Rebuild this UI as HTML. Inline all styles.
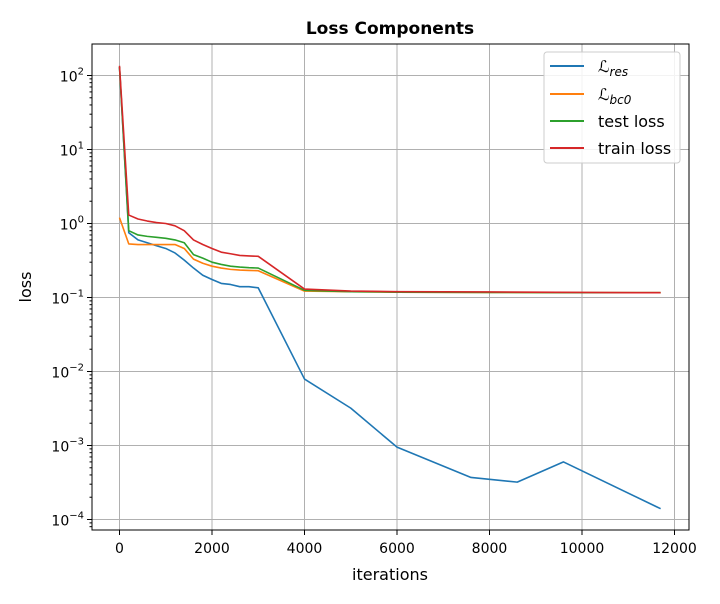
<!DOCTYPE html>
<html><head><meta charset="utf-8"><style>
body{margin:0;background:#fff;font-family:"DejaVu Sans","Liberation Sans",sans-serif}
svg text{font-family:"DejaVu Sans","Liberation Sans",sans-serif}
</style></head><body>
<svg id="chart" width="720" height="600" xmlns="http://www.w3.org/2000/svg">
<rect width="720" height="600" fill="#fff"/>
<g id="grid"></g>
<g id="series"></g>
<rect x="92" y="44" width="597" height="486" fill="none" stroke="#000" stroke-width="1"/>
<g id="ticks"></g>
<text x="390" y="34" text-anchor="middle" font-size="17" font-weight="bold">Loss Components</text>
<text x="390" y="580" text-anchor="middle" font-size="16">iterations</text>
<text transform="translate(31,287) rotate(-90)" text-anchor="middle" font-size="16">loss</text>
<g>
<rect x="544" y="52" width="136" height="111" rx="3" fill="#fff" fill-opacity="0.85" stroke="#ccc"/>
<line x1="550" y1="66" x2="584" y2="66" stroke="#1f77b4" stroke-width="2"/>
<text x="598" y="72" font-size="16" font-style="italic" font-family="Liberation Serif,serif">ℒ<tspan font-size="12" dy="4">res</tspan></text>
<line x1="550" y1="94" x2="584" y2="94" stroke="#ff7f0e" stroke-width="2"/>
<text x="598" y="100" font-size="16" font-style="italic" font-family="Liberation Serif,serif">ℒ<tspan font-size="12" dy="4">bc0</tspan></text>
<line x1="550" y1="121" x2="584" y2="121" stroke="#2ca02c" stroke-width="2"/>
<text x="598" y="127" font-size="16">test loss</text>
<line x1="550" y1="148" x2="584" y2="148" stroke="#d62728" stroke-width="2"/>
<text x="598" y="154" font-size="16">train loss</text>
</g>
</svg>
<script>
const xTicks=[0,2000,4000,6000,8000,10000,12000];
const yTicks=[2,1,0,-1,-2,-3,-4];
const itersEarly=[0,200,400,600,800,1000,1200,1400,1600,1800,2000,2200,2400,2600,2800,3000,4000,5000,6000,8000,10000,11700];
const trainLoss=[135,1.3,1.15,1.08,1.03,1.0,0.93,0.8,0.6,0.52,0.46,0.41,0.39,0.37,0.365,0.36,0.13,0.122,0.12,0.119,0.117,0.116];
const testLoss=[130,0.8,0.7,0.67,0.65,0.63,0.6,0.55,0.38,0.34,0.3,0.28,0.265,0.258,0.253,0.25,0.125,0.12,0.118,0.117,0.116,0.116];
const bcLoss=[1.2,0.53,0.52,0.52,0.52,0.52,0.52,0.46,0.33,0.29,0.265,0.25,0.24,0.235,0.232,0.23,0.122,0.12,0.118,0.117,0.116,0.116];
const resIters=[0,200,400,600,800,1000,1200,1400,1600,1800,2000,2200,2400,2600,2800,3000,4000,5000,6000,7600,8600,9600,11600,11700];
const resLoss=[130,0.75,0.6,0.55,0.5,0.46,0.4,0.32,0.25,0.2,0.175,0.155,0.15,0.14,0.14,0.135,0.0079,0.0032,0.00095,0.00037,0.00032,0.0006,0.00015,0.00014];
const X=v=>119.5+v*0.04625;
const Y=v=>75.5-(Math.log10(v)-2)*74;
const NS="http://www.w3.org/2000/svg";
const grid=document.getElementById('grid'),ticks=document.getElementById('ticks'),ser=document.getElementById('series');
function mk(tag,attrs,parent){const e=document.createElementNS(NS,tag);for(const k in attrs)e.setAttribute(k,attrs[k]);parent.appendChild(e);return e;}
xTicks.forEach(t=>{const x=X(t);
 const g=mk('line',{x1:x,x2:x,y1:44,y2:530,stroke:'#b0b0b0','stroke-width':1},grid);
 
 
 mk('line',{x1:x,x2:x,y1:530,y2:535,stroke:'#000'},ticks);
 const tx=mk('text',{x:x,y:553,'text-anchor':'middle','font-size':14},ticks);tx.textContent=t;
 
 
});
yTicks.forEach(p=>{const y=Y(Math.pow(10,p));
 const g=mk('line',{x1:92,x2:689,y1:y,y2:y,stroke:'#b0b0b0','stroke-width':1},grid);
 
 
 mk('line',{x1:87,x2:92,y1:y,y2:y,stroke:'#000'},ticks);
 const tx=mk('text',{x:84,y:y+6,'text-anchor':'end','font-size':14},ticks);
 tx.innerHTML='10<tspan font-size="10" dy="-7">'+(p<0?'−'+(-p):p)+'</tspan>';
 
 
 for(let m=2;m<10;m++){const v=m*Math.pow(10,p-1);const yy=Y(v);if(yy>44&&yy<530)mk('line',{x1:89.5,x2:92,y1:yy,y2:yy,stroke:'#000'},ticks);}
});
function line(xs,ys,color,name){
 const p=mk('polyline',{points:xs.map((x,i)=>X(x)+','+Y(ys[i])).join(' '),fill:'none',stroke:color,'stroke-width':1.6,'stroke-linejoin':'round'},ser);
 
 
}
line(resIters,resLoss,'#1f77b4','res-loss-line');
line(itersEarly,bcLoss,'#ff7f0e','bc0-loss-line');
line(itersEarly,testLoss,'#2ca02c','test-loss-line');
line(itersEarly,trainLoss,'#d62728','train-loss-line');
</script>
</body></html>
